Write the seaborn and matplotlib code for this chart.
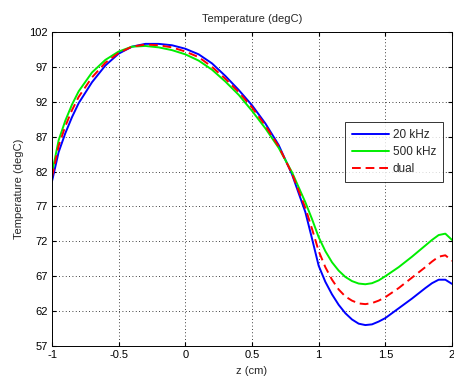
import numpy as np
import pandas as pd
import matplotlib
matplotlib.use("Agg")
import matplotlib.pyplot as plt
import seaborn as sns

z = [-1.0, -0.95, -0.9, -0.85, -0.8, -0.7, -0.6, -0.5, -0.4, -0.3, -0.2, -0.1, 0.0,
     0.1, 0.2, 0.3, 0.4, 0.5, 0.6, 0.7, 0.8, 0.9, 0.95, 1.0, 1.05, 1.1, 1.15, 1.2, 1.25,
     1.3, 1.35, 1.4, 1.45, 1.5, 1.6, 1.7, 1.8, 1.85, 1.9, 1.95, 2.0]

t_20khz = [80.6, 84.8, 87.5, 89.8, 91.8, 94.8, 97.2, 98.9, 99.9, 100.3, 100.3, 100.1, 99.6,
           98.8, 97.5, 95.7, 93.7, 91.5, 88.9, 85.8, 81.6, 76.2, 72.4, 68.5, 66.2, 64.4, 62.9,
           61.7, 60.8, 60.2, 60.0, 60.1, 60.5, 61.0, 62.4, 63.8, 65.3, 66.0, 66.5, 66.5, 65.9]

t_500khz = [81.8, 86.5, 89.3, 91.6, 93.5, 96.2, 98.0, 99.2, 99.9, 100.0, 99.8, 99.4, 98.8,
            97.9, 96.6, 94.9, 93.0, 90.7, 88.2, 85.4, 81.9, 77.6, 75.2, 72.6, 70.6, 69.0, 67.8,
            66.9, 66.3, 65.95, 65.85, 66.0, 66.4, 67.0, 68.3, 69.8, 71.4, 72.2, 72.9, 73.1, 72.2]

t_dual = [81.2, 85.7, 88.5, 90.8, 92.7, 95.5, 97.6, 99.0, 99.9, 100.2, 100.1, 99.8, 99.2,
          98.4, 97.0, 95.3, 93.4, 91.2, 88.6, 85.6, 81.7, 76.8, 73.8, 70.6, 68.3, 66.5, 65.1,
          64.1, 63.5, 63.1, 63.0, 63.15, 63.5, 64.0, 65.3, 66.8, 68.3, 69.1, 69.8, 70.0, 69.2]

series_names = ["20 kHz", "500 kHz", "dual"]
x_ticks = [-1, -0.5, 0, 0.5, 1, 1.5, 2]
x_ticklabels = ["-1", "-0.5", "0", "0.5", "1", "1.5", "2"]
y_ticks = [57, 62, 67, 72, 77, 82, 87, 92, 97, 102]

df = pd.concat([
    pd.DataFrame({"z": z, "T": t_20khz, "series": series_names[0]}),
    pd.DataFrame({"z": z, "T": t_500khz, "series": series_names[1]}),
    pd.DataFrame({"z": z, "T": t_dual, "series": series_names[2]}),
])

sns.set_style("white")
plt.rcParams["font.family"] = ["Liberation Sans", "DejaVu Sans"]

fig = plt.figure(figsize=(4.54, 3.79), dpi=100)
ax = fig.add_axes([52 / 454, 33 / 379, 400 / 454, 314 / 379])

palette = {"20 kHz": "#0000ff", "500 kHz": "#00ee00", "dual": "#ff0000"}
dashes = {"20 kHz": "", "500 kHz": "", "dual": (4.5, 2.5)}
sns.lineplot(data=df, x="z", y="T", hue="series", style="series",
             palette=palette, dashes=dashes, linewidth=1.4, ax=ax,
             sort=False, estimator=None)

ax.set_xlim(-1, 2)
ax.set_ylim(57, 102)
ax.set_xticks(x_ticks)
ax.set_xticklabels(x_ticklabels)
ax.set_yticks(y_ticks)
ax.tick_params(direction="in", length=3, labelsize=8, colors="black", pad=3,
               top=True, right=True, bottom=True, left=True)
ax.grid(True, linestyle=(0, (1, 3)), color="black", linewidth=0.6)
for s in ax.spines.values():
    s.set_color("black")
    s.set_linewidth(0.7)
ax.set_xlabel("z (cm)", fontsize=8, labelpad=4)
ax.set_ylabel("Temperature (degC)", fontsize=8, labelpad=4)
ax.set_title("Temperature (degC)", fontsize=8, pad=7)

leg = ax.legend(loc="upper right", bbox_to_anchor=(0.9775, 0.713), fontsize=8.5,
                frameon=True, fancybox=False, edgecolor="black", handlelength=3.1,
                borderpad=0.6, labelspacing=0.42, handletextpad=0.3, borderaxespad=0)
leg.get_frame().set_linewidth(0.7)
leg.set_title(None)

fig.savefig("out.png", dpi=100, facecolor="white")
